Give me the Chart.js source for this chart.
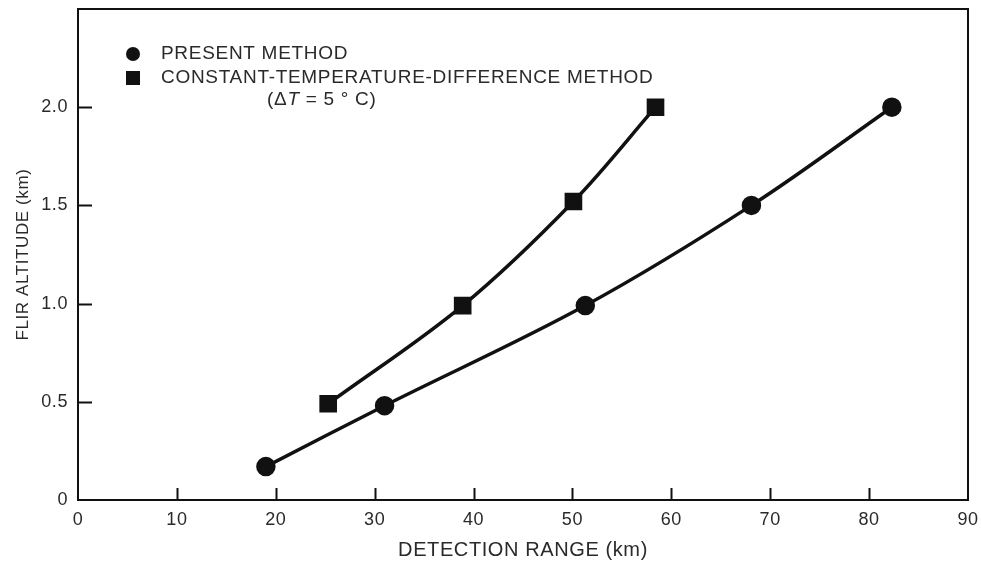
<!DOCTYPE html>
<html>
<head>
<meta charset="utf-8">
<script src="https://cdn.jsdelivr.net/npm/chart.js@4.4.1/dist/chart.umd.min.js"></script>
<style>
  html, body { margin: 0; padding: 0; background: #fff; }
  #wrap { width: 981px; height: 563px; }
</style>
</head>
<body>
<div id="wrap"><canvas id="myChart"></canvas></div>
<script>
// values
const presentRange = [19.0, 31.0, 51.3, 68.1, 82.3];
const presentAlt = [0.17, 0.48, 0.99, 1.50, 2.00];
const ctdRange = [25.3, 38.9, 50.1, 58.4];
const ctdAlt = [0.49, 0.99, 1.52, 2.00];
const xTicks = [0, 10, 20, 30, 40, 50, 60, 70, 80, 90];
const yTicks = [0, 0.5, 1.0, 1.5, 2.0];

const ink = '#111';
const textCol = '#2a2a2a';
const fontFam = '"Liberation Sans", Arial, Helvetica, sans-serif';

const toPts = (xs, ys) => xs.map((x, i) => ({ x: x, y: ys[i] }));

// frame, inward ticks and the legend box inside the plot
const framePlugin = {
  id: 'frame',
  beforeDraw(chart) {
    chart.ctx.letterSpacing = '0.6px';
  },
  afterDraw(chart) {
    const c = chart.ctx;
    const a = chart.chartArea;
    const xs = chart.scales.x, ys = chart.scales.y;
    c.save();
    c.strokeStyle = ink;
    c.lineWidth = 2;
    c.strokeRect(a.left, a.top, a.right - a.left, a.bottom - a.top);
    xTicks.slice(1, -1).forEach(v => {
      const px = Math.round(xs.getPixelForValue(v)) + 0.5;
      c.beginPath(); c.moveTo(px, a.bottom); c.lineTo(px, a.bottom - 12); c.stroke();
    });
    yTicks.slice(1).forEach(v => {
      const py = Math.round(ys.getPixelForValue(v)) + 0.5;
      c.beginPath(); c.moveTo(a.left, py); c.lineTo(a.left + 14, py); c.stroke();
    });

    // legend
    const lx = a.left + 55, ly = a.top + 45;
    c.fillStyle = ink;
    c.beginPath(); c.arc(lx, ly, 7, 0, Math.PI * 2); c.fill();
    c.fillRect(lx - 7, ly + 17, 14, 14);
    c.fillStyle = textCol;
    c.letterSpacing = '0.7px';
    c.font = '19px ' + fontFam;
    c.textBaseline = 'middle';
    c.textAlign = 'left';
    c.fillText('PRESENT METHOD', lx + 28, ly);
    c.fillText('CONSTANT-TEMPERATURE-DIFFERENCE METHOD', lx + 28, ly + 24);
    let tx = lx + 134;
    const parts = [['(\u0394', ''], ['T', 'italic '], [' = 5 \u00B0 C)', '']];
    parts.forEach(p => {
      c.font = p[1] + '19px ' + fontFam;
      c.fillText(p[0], tx, ly + 46);
      tx += c.measureText(p[0]).width;
    });
    c.restore();
  }
};

const ctx = document.getElementById('myChart');

new Chart(ctx, {
  type: 'scatter',
  data: {
    datasets: [
      {
        label: 'PRESENT METHOD',
        data: toPts(presentRange, presentAlt),
        showLine: true,
        borderColor: ink,
        backgroundColor: ink,
        borderWidth: 3.5,
        pointStyle: 'circle',
        pointRadius: 8,
        tension: 0.35
      },
      {
        label: 'CONSTANT-TEMPERATURE-DIFFERENCE METHOD',
        data: toPts(ctdRange, ctdAlt),
        showLine: true,
        borderColor: ink,
        backgroundColor: ink,
        borderWidth: 3.5,
        pointStyle: 'rect',
        pointRadius: 10,
        tension: 0.35
      }
    ]
  },
  options: {
    responsive: true,
    maintainAspectRatio: false,
    animation: false,
    layout: { autoPadding: false, padding: { left: 0, top: 9, right: 13, bottom: 0 } },
    plugins: {
      legend: { display: false },
      tooltip: { enabled: false }
    },
    scales: {
      x: {
        type: 'linear',
        min: 0, max: 90,
        afterFit: s => { s.height = 63; s.paddingLeft = 0; s.paddingRight = 0; },
        afterBuildTicks: s => { s.ticks = xTicks.map(v => ({ value: v })); },
        grid: { display: false, drawTicks: false },
        border: { display: false },
        ticks: {
          padding: 9,
          color: textCol,
          font: { family: fontFam, size: 18 },
          maxRotation: 0
        },
        title: {
          display: true,
          text: 'DETECTION RANGE (km)',
          color: textCol,
          font: { family: fontFam, size: 20 },
          padding: { top: 0, bottom: 1 }
        }
      },
      y: {
        type: 'linear',
        min: 0, max: 2.5,
        afterFit: s => { s.width = 78; s.paddingTop = 0; s.paddingBottom = 0; },
        afterBuildTicks: s => { s.ticks = yTicks.map(v => ({ value: v })); },
        grid: { display: false, drawTicks: false },
        border: { display: false },
        ticks: {
          padding: 10,
          color: textCol,
          font: { family: fontFam, size: 18 },
          callback: v => v === 0 ? '0' : v.toFixed(1)
        },
        title: {
          display: true,
          text: 'FLIR ALTITUDE (km)',
          color: textCol,
          font: { family: fontFam, size: 17 },
          padding: { top: 13, bottom: 0 }
        }
      }
    }
  },
  plugins: [framePlugin]
});
</script>
</body>
</html>
